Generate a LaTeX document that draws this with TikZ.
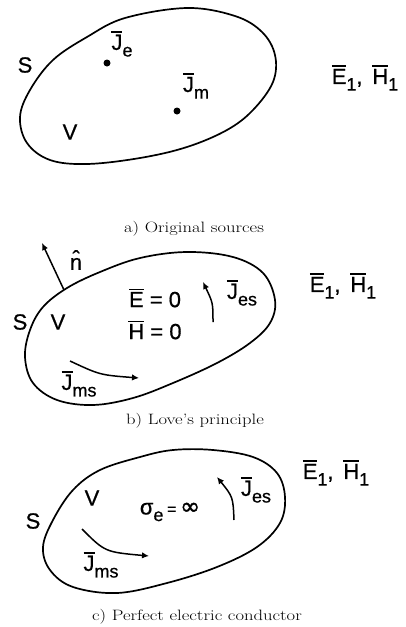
\documentclass[tikz,border=0pt]{standalone}
\usepackage{fontspec}
\usepackage{graphicx}
\setmainfont{Latin Modern Roman}
\newfontfamily\lblfont[FakeBold=0.6]{Liberation Sans}
\newfontfamily\dvfont[FakeBold=1.5]{DejaVu Sans}
\usetikzlibrary{arrows.meta}
\newcommand\barred[1]{\setbox0\hbox{#1}\rlap{\raisebox{\dimexpr\ht0+2pt\relax}{\rule{\wd0}{1.4pt}}}#1}
\newcommand\lowr[1]{\raisebox{-0.3em}{\fontsize{18}{18}\selectfont #1}}
\tikzset{
  surf/.style={line width=1.7pt, line join=round},
  lbl/.style={font=\lblfont\fontsize{22}{22}\selectfont, inner sep=0pt},
  captxt/.style={font=\fontsize{15}{15}\selectfont, inner sep=0pt},
  cur/.style={line width=1.5pt, -{Latex[length=7pt,width=6.5pt]}},
  dotn/.style={circle, fill=black, inner sep=0pt, minimum size=7pt}
}
\begin{document}
\begin{tikzpicture}[x=1pt,y=-1pt]
\useasboundingbox (0,0) rectangle (406,627);
% ---------- a) ----------
\draw[surf] plot[smooth cycle, tension=0.6] coordinates {(187,8) (235,16) (262,32) (275,55) (273,82) (253,110) (227,130) (187,147) (140,158) (87,164) (50,160) (27,143) (20,117) (30,90) (53,60) (87,37) (125,18)};
\node[lbl] (Sa) at (25,65) {S};
\node[lbl] (Va) at (70,132) {V};
\node[dotn] (dje) at (107,63) {};
\node[lbl] (Jea) at (122,44) {\barred{J}\lowr{e}};
\node[dotn] (djm) at (177,111) {};
\node[lbl] (Jma) at (196,86) {\barred{J}\lowr{m}};
\node[lbl] (EHa) at (365,78) {\barred{E}\lowr{1},\, \barred{H}\lowr{1}};
\node[captxt] (capa) at (194,229) {\scalebox{1.24}[1]{a)\ Original sources}};
% ---------- b) ----------
\draw[surf] plot[smooth cycle, tension=0.6] coordinates {(187,252) (233,257) (263,273) (275,300) (270,323) (250,343) (217,363) (173,383) (133,398) (93,405) (57,400) (33,383) (25,357) (30,330) (43,307) (67,288) (100,272) (140,258)};
\coordinate (nb0) at (64,290);
\coordinate (nb1) at (42,243);
\draw[cur] (nb0) -- (nb1);
\node[lbl] (nhat) at (76,260) {\^n};
\node[lbl] (Sb) at (20,322) {S};
\node[lbl] (Vb) at (58,322) {V};
\node[lbl] (E0) at (155,298) {\barred{E} = 0};
\node[lbl] (H0) at (155,330) {\barred{H} = 0};
\coordinate (jes0) at (213,322);
\coordinate (jes1) at (203,282);
\draw[cur] (jes0) .. controls (213,303) .. (jes1);
\node[lbl] (Jesb) at (242,293) {\barred{J}\lowr{es}};
\coordinate (jms0) at (70,361);
\coordinate (jms1) at (139,378);
\draw[cur] (jms0) .. controls (100,375) .. (jms1);
\node[lbl] (Jmsb) at (79,384) {\barred{J}\lowr{ms}};
\node[lbl] (EHb) at (343,286) {\barred{E}\lowr{1},\, \barred{H}\lowr{1}};
\node[captxt] (capb) at (195,421) {\scalebox{1.24}[1]{b)\ Love's principle}};
% ---------- c) ----------
\draw[surf] plot[smooth cycle, tension=0.6] coordinates {(213,450) (253,457) (277,473) (285,497) (280,523) (257,547) (217,567) (167,583) (117,593) (73,587) (50,570) (43,547) (53,520) (73,490) (100,470) (140,457) (173,450)};
\node[lbl] (Sc) at (33,521) {S};
\node[lbl] (Vc) at (92,498) {V};
\node[lbl] (sig) at (170,512) {σ\lowr{e}\,{\fontsize{16}{16}\selectfont =}\,{\dvfont\fontsize{24}{24}\selectfont ∞}};
\coordinate (jes2) at (234,520);
\coordinate (jes3) at (217,477);
\draw[cur] (jes2) .. controls (233,497) .. (jes3);
\node[lbl] (Jesc) at (256,490) {\barred{J}\lowr{es}};
\coordinate (jms2) at (82,529);
\coordinate (jms3) at (149,556);
\draw[cur] (jms2) .. controls (105,552) .. (jms3);
\node[lbl] (Jmsc) at (101,565) {\barred{J}\lowr{ms}};
\node[lbl] (EHc) at (336,473) {\barred{E}\lowr{1},\, \barred{H}\lowr{1}};
\node[captxt] (capc) at (197,617) {\scalebox{1.24}[1]{c)\ Perfect electric conductor}};
\end{tikzpicture}
\end{document}
